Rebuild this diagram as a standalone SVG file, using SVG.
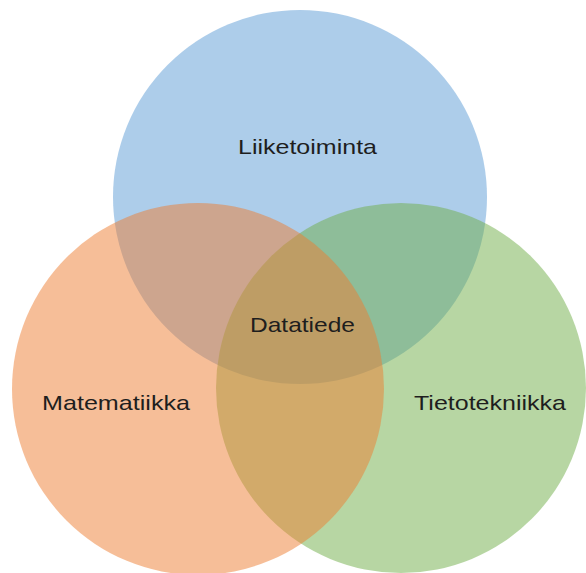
<svg xmlns="http://www.w3.org/2000/svg" width="586" height="573" viewBox="0 0 586 573">
<style>
.c{fill-opacity:0.5;stroke:none}
.t{font-family:"Liberation Sans","Open Sans",sans-serif;font-size:21px;fill:#1e1e1e;text-anchor:middle}
</style>
<rect width="586" height="573" fill="#ffffff"/>
<g id="liiketoiminta">
<circle class="c" cx="300" cy="197" r="187" fill="#5b9bd5"/>
</g>
<g id="tietotekniikka">
<circle class="c" cx="401" cy="388" r="185" fill="#70ad47"/>
</g>
<g id="matematiikka">
<circle class="c" cx="198" cy="389" r="186" fill="#ed7d31"/>
</g>
<g id="labels">
<text class="t" x="307.5" y="154" textLength="139" lengthAdjust="spacingAndGlyphs">Liiketoiminta</text>
<text class="t" x="302.5" y="332" textLength="105" lengthAdjust="spacingAndGlyphs">Datatiede</text>
<text class="t" x="116" y="410" textLength="148" lengthAdjust="spacingAndGlyphs">Matematiikka</text>
<text class="t" x="490" y="410" textLength="152" lengthAdjust="spacingAndGlyphs">Tietotekniikka</text>
</g>
<g id="connectors"></g>
</svg>
